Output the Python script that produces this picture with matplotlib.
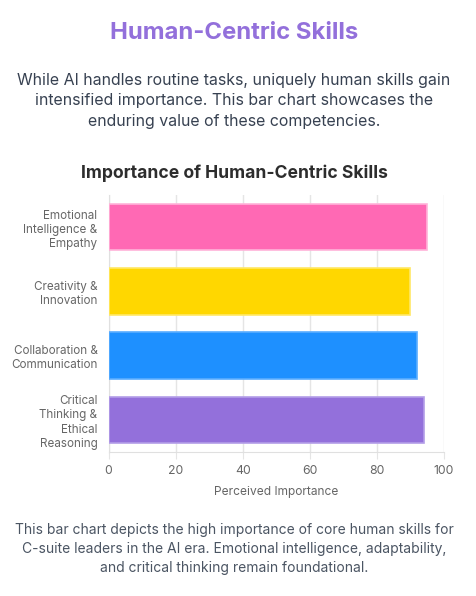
import matplotlib
matplotlib.use("Agg")
import matplotlib.pyplot as plt

plt.rcParams['font.family'] = ['Inter', 'DejaVu Sans']

skills = ["Emotional\nIntelligence &\nEmpathy", "Creativity &\nInnovation",
          "Collaboration &\nCommunication", "Critical\nThinking &\nEthical\nReasoning"]
importance = [95, 90, 92, 94]
colors = ["#FF69B4", "#FFD700", "#1E90FF", "#9370DB"]
edges = ["#FFB3D9", "#FFE866", "#5AADFF", "#B39DE8"]
xticks = [0, 20, 40, 60, 80, 100]

W, H = 476, 596
fig = plt.figure(figsize=(W / 100, H / 100), dpi=100)
fig.patch.set_facecolor("white")

def px(x, y):
    return x / W, 1 - y / H

fig.text(*px(234, 33), "Human-Centric Skills", ha="center", va="center",
         fontsize=17.2, fontweight="bold", color="#9370DB")
fig.text(*px(234, 101), "While AI handles routine tasks, uniquely human skills gain\n"
         "intensified importance. This bar chart showcases the\n"
         "enduring value of these competencies.", ha="center", va="center",
         fontsize=11.45, color="#374151", linespacing=1.47)
fig.text(*px(234, 173), "Importance of Human-Centric Skills", ha="center", va="center",
         fontsize=12.6, fontweight="bold", color="#2d2d2d")
fig.text(*px(234, 549), "This bar chart depicts the high importance of core human skills for\n"
         "C-suite leaders in the AI era. Emotional intelligence, adaptability,\n"
         "and critical thinking remain foundational.", ha="center", va="center",
         fontsize=10.0, color="#4b5563", linespacing=1.45)

left, right, top, bottom = 108.5, 444, 195, 452
ax = fig.add_axes([left / W, 1 - bottom / H, (right - left) / W, (bottom - top) / H])
ypos = list(range(len(skills)))
ax.barh(ypos, importance, height=0.72, color=colors, edgecolor=edges, linewidth=1.2, zorder=3)
ax.set_ylim(len(skills) - 0.5, -0.5)
ax.set_xlim(0, 100)
ax.set_xticks(xticks)
ax.set_yticks(ypos)
ax.set_yticklabels(skills, fontsize=8.4, color="#666666", linespacing=1.25)
ax.tick_params(axis="x", labelsize=8.8, colors="#666666", length=5, color="#e5e5e5", pad=4)
ax.tick_params(axis="y", length=0, pad=8)
ax.grid(axis="x", color="#e5e5e5", linewidth=1, zorder=0)
for s in ["top", "right"]:
    ax.spines[s].set_visible(False)
for s in ["left", "bottom"]:
    ax.spines[s].set_color("#e0e0e0")
ax.set_xlabel("Perceived Importance", fontsize=8.6, color="#666666", labelpad=7)

fig.savefig("out.png", dpi=100, facecolor="white")
